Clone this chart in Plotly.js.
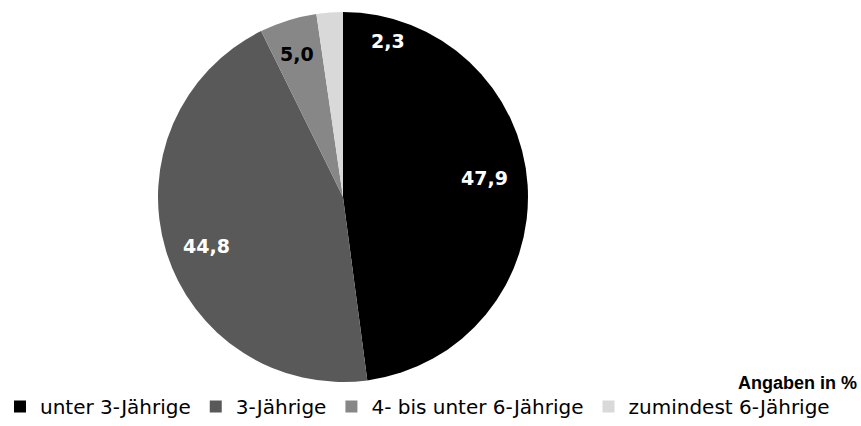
<!DOCTYPE html>
<html>
<head>
<meta charset="utf-8">
<script src="https://cdn.plot.ly/plotly-3.0.1.min.js"></script>
<style>html,body{margin:0;padding:0;background:#fff;}#chart{width:861px;height:426px;}</style>
</head>
<body>
<div id="chart"></div>
<script>
const categories = ["unter 3-Jährige", "3-Jährige", "4- bis unter 6-Jährige", "zumindest 6-Jährige"];
const values = [47.9, 44.8, 5.0, 2.3];
const colors = ["#000000", "#595959", "#878787", "#d9d9d9"];
const labelColors = ["#ffffff", "#ffffff", "#000000", "#ffffff"];
const labelPos = [[484, 178], [206, 246], [297, 54], [388, 41]];

const W = 861, H = 426;
const fmt = v => v.toFixed(1).replace(".", ",");

const trace = {
  type: "pie",
  labels: categories,
  values: values,
  sort: false,
  direction: "clockwise",
  rotation: 0,
  marker: {colors: colors, line: {width: 0}},
  textinfo: "none",
  hoverinfo: "none",
  domain: {x: [(343 - 185) / W, (343 + 185) / W], y: [1 - 382 / H, 1 - 12 / H]}
};

const annotations = values.map((v, i) => ({
  xref: "paper", yref: "paper",
  x: labelPos[i][0] / W, y: 1 - labelPos[i][1] / H,
  xanchor: "center", yanchor: "middle",
  text: "<b>" + fmt(v) + "</b>",
  showarrow: false,
  font: {family: "DejaVu Sans, sans-serif", size: 19, color: labelColors[i]}
}));
annotations.push({
  xref: "paper", yref: "paper",
  x: 859 / W, y: 1 - 383 / H, xanchor: "right", yanchor: "middle",
  text: "<b>Angaben in %</b>", showarrow: false,
  font: {family: "Liberation Sans, Arial, sans-serif", size: 18, color: "#000"}
});

const layout = {
  width: W, height: H,
  margin: {l: 0, r: 0, t: 0, b: 0},
  paper_bgcolor: "#fff",
  showlegend: true,
  legend: {
    orientation: "h",
    x: 0, y: 0, xanchor: "left", yanchor: "bottom",
    font: {family: "DejaVu Sans, sans-serif", size: 20, color: "#000"},
    itemwidth: 30,
    traceorder: "normal"
  },
  annotations: annotations
};

Plotly.newPlot("chart", [trace], layout, {staticPlot: true});
</script>
</body>
</html>
